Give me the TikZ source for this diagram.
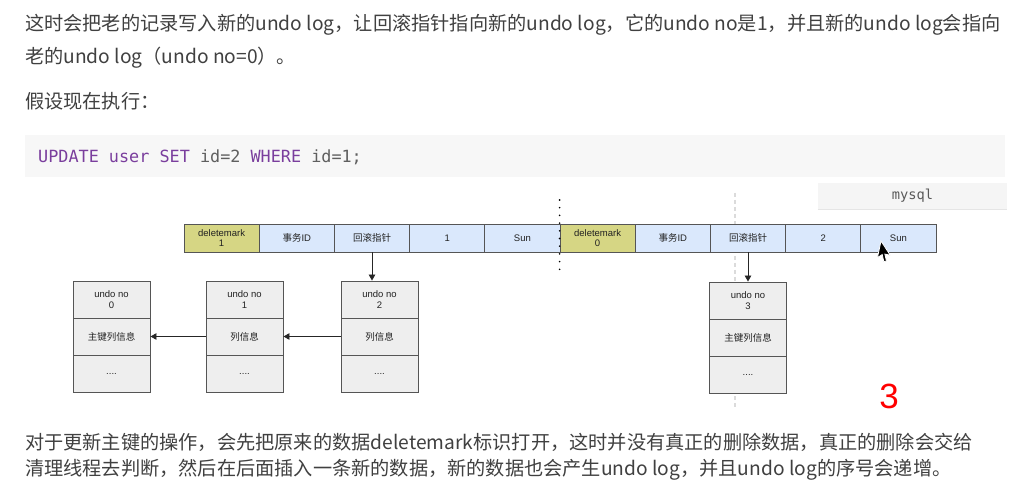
\documentclass[tikz,border=0pt]{standalone}
\usepackage{fontspec}
\setmainfont{Liberation Sans}
\newfontfamily\cjk{Noto Sans CJK SC}
\newfontfamily\monof{DejaVu Sans Mono}
\usetikzlibrary{arrows.meta}
\definecolor{txt}{HTML}{404040}
\definecolor{kw}{RGB}{122,62,157}
\definecolor{cg}{RGB}{95,95,95}
\definecolor{codebg}{HTML}{F7F7F7}
\definecolor{mysqlbg}{HTML}{F5F5F5}
\definecolor{cellblue}{HTML}{DAE8FC}
\definecolor{dmfill}{RGB}{214,214,132}
\definecolor{bord}{HTML}{555555}
\definecolor{ugray}{HTML}{EEEEEE}
\definecolor{dtext}{HTML}{222222}
\tikzset{
  para/.style={anchor=base west, inner sep=0pt, text=txt, font={\cjk\fontsize{19.2}{24}\selectfont}},
  cellb/.style={draw=bord, line width=0.9pt, fill=cellblue, minimum width=75.2pt, minimum height=28pt, inner sep=0pt, align=center, text=dtext, font={\fontsize{9.5}{10.5}\selectfont}},
  celldm/.style={cellb, fill=dmfill},
  undobox/.style={draw=bord, line width=0.9pt, fill=ugray, minimum width=77pt, minimum height=37pt, inner sep=0pt, align=center, text=dtext, font={\fontsize{9.5}{11.5}\selectfont}},
  arr/.style={-{Triangle[length=6pt,width=6.5pt]}, line width=0.9pt, draw=black!85, fill=black!85},
  dotline/.style={line width=1.8pt, dash pattern=on 0pt off 7.7pt, line cap=round, black},
  grayline/.style={line width=1.2pt, dash pattern=on 4pt off 3pt, draw=black!14},
}
\begin{document}
\begin{tikzpicture}[x=1pt,y=-1pt]
\useasboundingbox (0,0) rectangle (1010,489);
\fill[white] (0,0) rectangle (1010,489);

% paragraphs
\node[para] (p1) at (25,31) {这时会把老的记录写入新的undo log，让回滚指针指向新的undo log，它的undo no是1，并且新的undo log会指向};
\node[para] (p2) at (25,63.4) {老的undo log（undo no=0）。};
\node[para] (p3) at (25,108.4) {假设现在执行：};

% code block
\node[fill=codebg, minimum width=980pt, minimum height=42pt, inner sep=0pt] (codebg) at (515,156) {};
\node[anchor=base west, inner sep=0pt, font={\monof\fontsize{16.8}{20}\selectfont}] (code) at (38,163) {\textcolor{kw}{UPDATE user SET} \textcolor{cg}{id=2} \textcolor{kw}{WHERE} \textcolor{cg}{id=1;}};

% mysql label
\node[fill=mysqlbg, minimum width=189pt, minimum height=26pt, inner sep=0pt, text=black!65, font={\monof\fontsize{13.7}{16}\selectfont}] (mysql) at (912.5,196) {mysql};
\draw[black!10, line width=1pt] (mysql.south west) -- (mysql.south east);

% gray dashed guide
\coordinate (gt) at (735,193);
\coordinate (gb) at (735,408);
\draw[grayline] (gt) -- (gb);

% table row
\node[celldm] (c0) at (221.6,238) {deletemark\\1};
\node[cellb] (c1) at (296.8,238) {{\cjk 事务}ID};
\node[cellb] (c2) at (372.0,238) {\cjk 回滚指针};
\node[cellb] (c3) at (447.2,238) {1};
\node[cellb] (c4) at (522.4,238) {Sun};
\node[celldm] (c5) at (597.6,238) {deletemark\\0};
\node[cellb] (c6) at (672.8,238) {{\cjk 事务}ID};
\node[cellb] (c7) at (748.0,238) {\cjk 回滚指针};
\node[cellb] (c8) at (823.2,238) {2};
\node[cellb] (c9) at (898.4,238) {Sun};

% dotted separator
\coordinate (dt) at (559.6,200);
\coordinate (db) at (559.6,274);
\draw[dotline] (dt) -- (db);

% undo boxes
\node[undobox] (u0a) at (111.5,299.5) {undo no\\0};
\node[undobox] (u0b) at (111.5,336.5) {\cjk 主键列信息};
\node[undobox] (u0c) at (111.5,373.5) {....};
\node[undobox] (u1a) at (244.5,299.5) {undo no\\1};
\node[undobox] (u1b) at (244.5,336.5) {\cjk 列信息};
\node[undobox] (u1c) at (244.5,373.5) {....};
\node[undobox] (u2a) at (379.5,299.5) {undo no\\2};
\node[undobox] (u2b) at (379.5,336.5) {\cjk 列信息};
\node[undobox] (u2c) at (379.5,373.5) {....};
\node[undobox] (u3a) at (748,300.5) {undo no\\3};
\node[undobox] (u3b) at (748,337.5) {\cjk 主键列信息};
\node[undobox] (u3c) at (748,374.5) {....};

% arrows
\draw[arr] (c2.south) -- (c2.south |- u2a.north);
\draw[arr] (c7.south) -- (u3a.north);
\draw[arr] (u2b.west) -- (u1b.east);
\draw[arr] (u1b.west) -- (u0b.east);

% red mark
\node[text=red, inner sep=0pt, font={\fontsize{35}{40}\selectfont}] (three) at (889,396) {3};

% mouse cursor
\filldraw[fill=black, draw=white, line width=0.8pt, shift={(881,241)}, rotate=-12] (0,0) -- (0,17) -- (4,13) -- (7,19.5) -- (9.5,18.5) -- (6.5,12) -- (12,12) -- cycle;

% bottom paragraph
\node[para] (p4) at (25,449.4) {对于更新主键的操作，会先把原来的数据deletemark标识打开，这时并没有真正的删除数据，真正的删除会交给};
\node[para] (p5) at (25,475.4) {清理线程去判断，然后在后面插入一条新的数据，新的数据也会产生undo log，并且undo log的序号会递增。};
\end{tikzpicture}
\end{document}
